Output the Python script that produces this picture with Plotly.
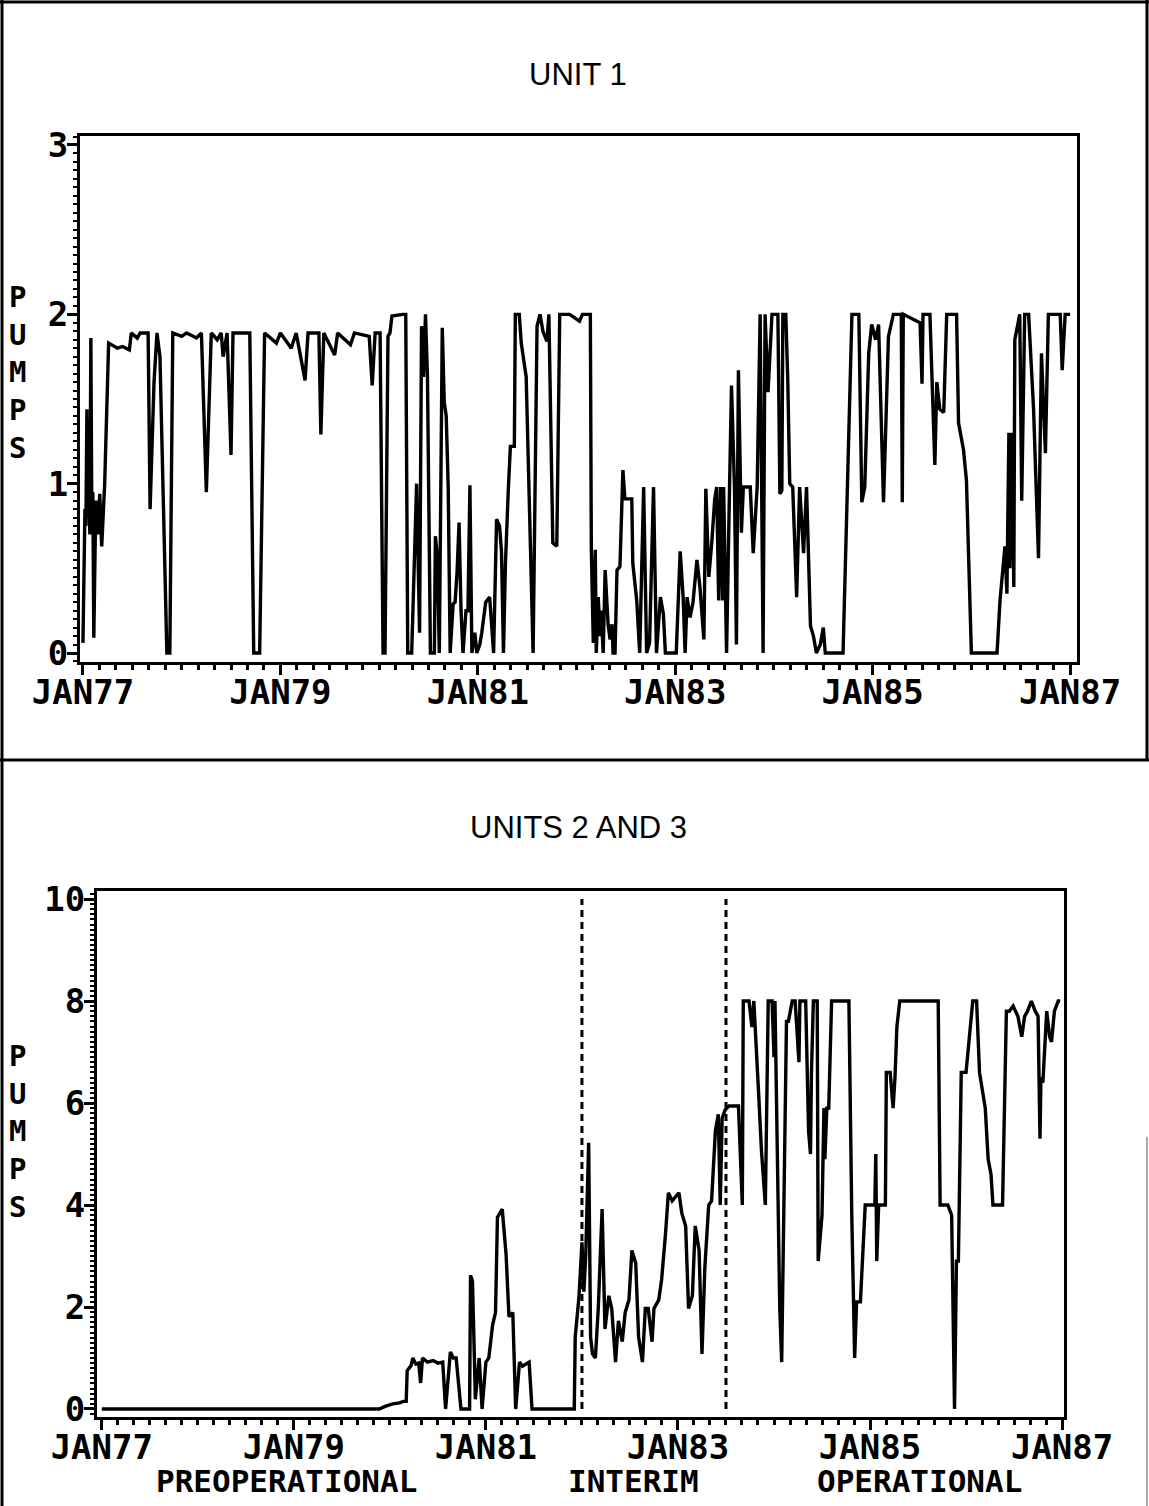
import plotly.graph_objects as go

# ---------------- DATA ----------------
# Unit 1: time (decimal year) and number of pumps in operation
unit1_t = [
    1977.00, 1977.02, 1977.03, 1977.04, 1977.05, 1977.06, 1977.07, 1977.08, 1977.09, 1977.10,
    1977.11, 1977.13, 1977.15, 1977.17, 1977.19, 1977.22, 1977.26, 1977.35, 1977.40, 1977.47,
    1977.49, 1977.55, 1977.58, 1977.66, 1977.68, 1977.72, 1977.75, 1977.78, 1977.83, 1977.85,
    1977.88, 1977.91, 1978.00, 1978.05, 1978.15, 1978.20, 1978.25, 1978.30, 1978.36, 1978.40,
    1978.42, 1978.46, 1978.50, 1978.52, 1978.69, 1978.73, 1978.79, 1978.84, 1978.96, 1979.00,
    1979.11, 1979.16, 1979.25, 1979.28, 1979.39, 1979.41, 1979.44, 1979.55, 1979.58, 1979.71,
    1979.75, 1979.90, 1979.93, 1979.96, 1980.01, 1980.04, 1980.06, 1980.09, 1980.11, 1980.13,
    1980.24, 1980.27, 1980.29, 1980.33, 1980.38, 1980.40, 1980.41, 1980.43, 1980.45, 1980.47,
    1980.49, 1980.52, 1980.56, 1980.57, 1980.59, 1980.61, 1980.64, 1980.66, 1980.68, 1980.70,
    1980.72, 1980.75, 1980.77, 1980.79, 1980.81, 1980.83, 1980.85, 1980.88, 1980.90, 1980.92,
    1980.94, 1980.97, 1980.99, 1981.02, 1981.04, 1981.08, 1981.12, 1981.16, 1981.19, 1981.22,
    1981.24, 1981.26, 1981.28, 1981.31, 1981.33, 1981.37, 1981.38, 1981.42, 1981.44, 1981.49,
    1981.53, 1981.56, 1981.60, 1981.63, 1981.66, 1981.70, 1981.72, 1981.76, 1981.80, 1981.83,
    1981.93, 1982.03, 1982.06, 1982.14, 1982.15, 1982.17, 1982.19, 1982.20, 1982.22, 1982.24,
    1982.25, 1982.27, 1982.29, 1982.32, 1982.34, 1982.36, 1982.37, 1982.39, 1982.41, 1982.44,
    1982.47, 1982.49, 1982.56, 1982.57, 1982.61, 1982.64, 1982.68, 1982.71, 1982.74, 1982.78,
    1982.81, 1982.83, 1982.85, 1982.88, 1982.90, 1983.01, 1983.05, 1983.08, 1983.10, 1983.12,
    1983.15, 1983.18, 1983.22, 1983.25, 1983.29, 1983.31, 1983.34, 1983.37, 1983.40, 1983.42,
    1983.44, 1983.46, 1983.48, 1983.49, 1983.52, 1983.55, 1983.57, 1983.60, 1983.62, 1983.64,
    1983.67, 1983.69, 1983.72, 1983.76, 1983.79, 1983.83, 1983.86, 1983.89, 1983.91, 1983.94,
    1983.98, 1984.04, 1984.06, 1984.08, 1984.09, 1984.12, 1984.14, 1984.16, 1984.19, 1984.23,
    1984.26, 1984.30, 1984.33, 1984.37, 1984.40, 1984.43, 1984.47, 1984.50, 1984.52, 1984.70,
    1984.79, 1984.86, 1984.89, 1984.92, 1984.96, 1984.99, 1985.03, 1985.06, 1985.11, 1985.16,
    1985.21, 1985.29, 1985.30, 1985.31, 1985.48, 1985.50, 1985.51, 1985.58, 1985.63, 1985.65,
    1985.68, 1985.72, 1985.75, 1985.85, 1985.87, 1985.92, 1985.95, 1986.00, 1986.26, 1986.29,
    1986.34, 1986.36, 1986.38, 1986.39, 1986.41, 1986.43, 1986.44, 1986.49, 1986.51, 1986.54,
    1986.58, 1986.63, 1986.68, 1986.71, 1986.75, 1986.78, 1986.90, 1986.92, 1986.95, 1987.00,
]
unit1_pumps = [
    0.06, 0.85, 0.75, 1.44, 0.80, 0.95, 0.70, 1.86, 0.75, 0.95,
    0.09, 0.90, 0.70, 0.94, 0.63, 1.00, 1.83, 1.80, 1.81, 1.79,
    1.89, 1.86, 1.89, 1.89, 0.85, 1.60, 1.89, 1.75, 0.50, 0.00,
    0.00, 1.89, 1.87, 1.89, 1.86, 1.89, 0.95, 1.89, 1.85, 1.89,
    1.75, 1.89, 1.17, 1.89, 1.89, 0.00, 0.00, 1.89, 1.83, 1.89,
    1.80, 1.89, 1.61, 1.89, 1.89, 1.29, 1.89, 1.76, 1.89, 1.82,
    1.89, 1.87, 1.58, 1.89, 1.89, 0.00, 0.00, 1.87, 1.89, 1.99,
    2.00, 2.00, 0.00, 0.00, 1.00, 0.30, 0.12, 1.93, 1.63, 2.00,
    1.63, 0.00, 0.00, 0.69, 0.57, 0.00, 1.92, 1.48, 1.40, 0.98,
    0.00, 0.29, 0.30, 0.48, 0.77, 0.25, 0.00, 0.25, 0.25, 0.99,
    0.00, 0.12, 0.00, 0.05, 0.12, 0.30, 0.33, 0.00, 0.79, 0.75,
    0.60, 0.00, 0.53, 0.98, 1.22, 1.22, 2.00, 2.00, 1.83, 1.63,
    0.70, 0.00, 1.93, 2.00, 1.90, 1.84, 2.00, 0.65, 0.63, 2.00,
    2.00, 1.96, 2.00, 2.00, 0.61, 0.06, 0.61, 0.00, 0.33, 0.10,
    0.25, 0.00, 0.49, 0.17, 0.08, 0.17, 0.00, 0.00, 0.49, 0.51,
    1.08, 0.91, 0.91, 0.53, 0.31, 0.00, 0.98, 0.00, 0.06, 0.98,
    0.00, 0.20, 0.33, 0.23, 0.00, 0.00, 0.60, 0.33, 0.00, 0.33,
    0.21, 0.30, 0.55, 0.39, 0.08, 0.97, 0.45, 0.65, 0.91, 0.98,
    0.31, 0.98, 0.31, 0.98, 0.00, 0.98, 1.58, 0.98, 0.05, 1.67,
    0.71, 0.98, 0.98, 0.98, 0.59, 0.98, 2.00, 0.00, 2.00, 1.54,
    2.00, 2.00, 0.94, 0.96, 2.00, 2.00, 1.61, 1.00, 0.98, 0.33,
    0.98, 0.59, 0.98, 0.16, 0.10, 0.00, 0.05, 0.15, 0.00, 0.00,
    2.00, 2.00, 0.89, 0.98, 1.77, 1.94, 1.85, 1.94, 0.89, 1.87,
    2.00, 2.00, 0.89, 2.00, 1.95, 1.59, 2.00, 2.00, 1.11, 1.60,
    1.44, 1.42, 2.00, 2.00, 1.36, 1.20, 1.02, 0.00, 0.00, 0.31,
    0.63, 0.35, 1.30, 0.50, 1.30, 0.39, 1.85, 2.00, 0.90, 2.00,
    2.00, 1.44, 0.56, 1.77, 1.18, 2.00, 2.00, 1.67, 2.00, 2.00,
]

# Units 2 and 3
units23_t = [
    1977.00, 1979.89, 1979.95, 1980.03, 1980.10, 1980.14, 1980.17, 1980.18, 1980.22, 1980.24,
    1980.27, 1980.30, 1980.32, 1980.34, 1980.39, 1980.45, 1980.50, 1980.55, 1980.58, 1980.63,
    1980.66, 1980.69, 1980.74, 1980.83, 1980.84, 1980.86, 1980.88, 1980.89, 1980.93, 1980.96,
    1981.00, 1981.03, 1981.07, 1981.10, 1981.12, 1981.17, 1981.21, 1981.24, 1981.28, 1981.31,
    1981.35, 1981.38, 1981.45, 1981.48, 1981.92, 1981.93, 1981.97, 1982.00, 1982.02, 1982.04,
    1982.07, 1982.09, 1982.11, 1982.14, 1982.17, 1982.21, 1982.24, 1982.28, 1982.31, 1982.35,
    1982.38, 1982.42, 1982.45, 1982.49, 1982.52, 1982.56, 1982.59, 1982.63, 1982.66, 1982.69,
    1982.73, 1982.75, 1982.80, 1982.83, 1982.87, 1982.90, 1982.94, 1982.97, 1983.01, 1983.04,
    1983.08, 1983.11, 1983.15, 1983.18, 1983.22, 1983.25, 1983.28, 1983.32, 1983.35, 1983.39,
    1983.42, 1983.44, 1983.46, 1983.49, 1983.53, 1983.63, 1983.67, 1983.68, 1983.74, 1983.77,
    1983.79, 1983.84, 1983.87, 1983.91, 1983.94, 1983.98, 1984.00, 1984.01, 1984.06, 1984.08,
    1984.13, 1984.15, 1984.19, 1984.22, 1984.26, 1984.27, 1984.33, 1984.36, 1984.38, 1984.39,
    1984.41, 1984.45, 1984.46, 1984.50, 1984.52, 1984.53, 1984.55, 1984.57, 1984.60, 1984.78,
    1984.81, 1984.84, 1984.86, 1984.90, 1984.95, 1985.05, 1985.06, 1985.07, 1985.09, 1985.16,
    1985.17, 1985.21, 1985.24, 1985.26, 1985.28, 1985.31, 1985.71, 1985.73, 1985.81, 1985.85,
    1985.88, 1985.90, 1985.92, 1985.95, 1986.00, 1986.07, 1986.11, 1986.14, 1986.20, 1986.23,
    1986.26, 1986.28, 1986.38, 1986.42, 1986.45, 1986.49, 1986.54, 1986.58, 1986.61, 1986.64,
    1986.68, 1986.72, 1986.75, 1986.77, 1986.78, 1986.80, 1986.84, 1986.87, 1986.89, 1986.92,
    1986.96, 1986.98,
]
units23_pumps = [
    0.00, 0.00, 0.05, 0.10, 0.12, 0.15, 0.15, 0.75, 0.85, 1.00,
    0.88, 0.90, 0.51, 1.00, 0.92, 0.95, 0.90, 0.92, 0.00, 1.12,
    1.00, 1.00, 0.00, 0.00, 2.62, 2.50, 1.00, 0.19, 1.00, 0.00,
    0.92, 1.00, 1.65, 1.89, 3.76, 3.92, 3.03, 1.81, 1.89, 0.00,
    0.92, 0.84, 0.92, 0.00, 0.00, 1.41, 2.22, 3.27, 2.30, 3.03,
    5.22, 1.41, 1.08, 1.00, 1.97, 3.92, 1.57, 2.22, 1.97, 0.92,
    1.73, 1.32, 1.89, 2.14, 3.11, 2.86, 1.41, 0.92, 1.97, 1.97,
    1.32, 1.97, 2.14, 2.54, 3.43, 4.24, 4.08, 4.16, 4.24, 3.84,
    3.59, 1.97, 2.22, 3.59, 3.11, 1.08, 2.78, 4.00, 4.08, 5.46,
    5.78, 4.00, 5.70, 5.86, 5.94, 5.94, 4.00, 8.00, 8.00, 7.49,
    8.00, 6.19, 5.05, 4.00, 8.00, 8.00, 6.90, 8.00, 1.97, 0.92,
    7.60, 7.60, 8.00, 8.00, 6.80, 8.00, 8.00, 5.45, 5.00, 6.60,
    8.00, 8.00, 2.90, 3.80, 5.90, 4.90, 5.90, 5.90, 8.00, 8.00,
    3.80, 1.00, 2.10, 2.10, 4.00, 4.00, 5.00, 2.90, 4.00, 4.00,
    6.60, 6.60, 5.90, 6.50, 7.50, 8.00, 8.00, 4.00, 4.00, 3.80,
    0.00, 2.90, 2.90, 6.60, 6.60, 8.00, 8.00, 6.60, 5.90, 4.90,
    4.60, 4.00, 4.00, 7.80, 7.80, 7.90, 7.70, 7.30, 7.70, 7.80,
    8.00, 7.80, 7.70, 5.30, 6.50, 6.40, 7.80, 7.30, 7.20, 7.80,
    8.00, 8.00,
]

tick_years = [1977, 1979, 1981, 1983, 1985, 1987]
tick_labels = ["JAN77", "JAN79", "JAN81", "JAN83", "JAN85", "JAN87"]
unit1_yticks = [0, 1, 2, 3]
units23_yticks = [0, 2, 4, 6, 8, 10]
phase_bounds = [1982.0, 1983.5]
phase_names = ["PREOPERATIONAL", "INTERIM", "OPERATIONAL"]
panel_titles = ["UNIT 1", "UNITS 2 AND 3"]
y_title = "PUMPS"

# ---------------- FIGURE ----------------
W, H = 1149, 1506
MONO = "DejaVu Sans Mono"

def px_x(px):
    return px / W

def px_y(py):
    return 1 - py / H

fig = go.Figure()
line_style = dict(color="black", width=3.4)

fig.add_trace(go.Scatter(x=unit1_t, y=unit1_pumps, mode="lines", line=line_style,
                         xaxis="x", yaxis="y", showlegend=False, hoverinfo="skip"))
fig.add_trace(go.Scatter(x=units23_t, y=units23_pumps, mode="lines", line=line_style,
                         xaxis="x2", yaxis="y2", showlegend=False, hoverinfo="skip"))
for b in phase_bounds:
    fig.add_trace(go.Scatter(x=[b, b], y=[units23_yticks[0], units23_yticks[-1]], mode="lines",
                             line=dict(color="black", width=3, dash="7px,5px"),
                             xaxis="x2", yaxis="y2", showlegend=False, hoverinfo="skip"))

tickfont = dict(family=MONO, size=34, color="black", weight="bold")
common_x = dict(
    tickmode="array", tickvals=tick_years, ticktext=tick_labels,
    ticks="outside", ticklen=10, tickwidth=3, tickcolor="black",
    showline=True, linecolor="black", linewidth=3, mirror=True,
    showgrid=False, zeroline=False, tickfont=tickfont, automargin=False,
    ticklabelstandoff=-12,
    minor=dict(dtick=1 / 6, tick0=1977, ticks="outside", ticklen=5, tickwidth=3, tickcolor="black"),
)
common_y = dict(
    tickmode="array", ticks="outside", ticklen=10, tickwidth=3, tickcolor="black",
    showline=True, linecolor="black", linewidth=3, mirror=True,
    showgrid=False, zeroline=False, tickfont=tickfont, automargin=False,
    ticklabelstandoff=-8,
)

fig.update_layout(
    width=W, height=H,
    margin=dict(l=0, r=0, t=0, b=0, pad=0),
    paper_bgcolor="white", plot_bgcolor="white",
    xaxis=dict(domain=[px_x(80), px_x(1077)], range=[1976.97, 1987.07], anchor="y", **common_x),
    yaxis=dict(domain=[px_y(662), px_y(136)], range=[-0.053, 3.053], anchor="x",
               tickvals=unit1_yticks, ticktext=[str(v) for v in unit1_yticks],
               minor=dict(dtick=0.05, tick0=0, ticks="outside", ticklen=4, tickwidth=2, tickcolor="black"),
               **common_y),
    xaxis2=dict(domain=[px_x(97), px_x(1064)], range=[1976.95, 1987.02], anchor="y2", **common_x),
    yaxis2=dict(domain=[px_y(1417), px_y(891)], range=[-0.157, 10.157], anchor="x2",
                tickvals=units23_yticks, ticktext=[str(v) for v in units23_yticks],
                minor=dict(dtick=0.1, tick0=0, ticks="outside", ticklen=4, tickwidth=2, tickcolor="black"),
                **common_y),
)

annotations = []
# panel titles
for title, py in zip(panel_titles, [75, 828]):
    annotations.append(dict(text=title, x=px_x(578), y=px_y(py), xref="paper", yref="paper",
                            showarrow=False, xanchor="center", yanchor="middle",
                            font=dict(family="Liberation Sans", size=31, color="black")))
# stacked (vertical) y-axis titles
for py in [372, 1131]:
    annotations.append(dict(text="<br>".join(y_title), x=px_x(17), y=px_y(py),
                            xref="paper", yref="paper", showarrow=False,
                            xanchor="center", yanchor="middle", align="center",
                            font=dict(family=MONO, size=29, color="black", weight="bold")))
# phase labels under the bottom panel
for name, cx in zip(phase_names, [1978.92, 1982.54, 1985.52]):
    annotations.append(dict(text=name, x=cx, y=px_y(1481), xref="x2", yref="paper",
                            showarrow=False, xanchor="center", yanchor="middle",
                            font=dict(family=MONO, size=31, color="black", weight="bold")))
fig.update_layout(annotations=annotations)

# outer frame of the figure page
frame = dict(type="line", xref="paper", yref="paper", line=dict(color="black", width=3))
fig.update_layout(shapes=[
    dict(frame, x0=px_x(2), x1=px_x(2), y0=0, y1=1),
    dict(frame, x0=0, x1=1, y0=px_y(2), y1=px_y(2)),
    dict(frame, x0=px_x(1147), x1=px_x(1147), y0=px_y(760), y1=1),
    dict(frame, x0=0, x1=1, y0=px_y(760), y1=px_y(760)),
    dict(type="line", xref="paper", yref="paper", x0=px_x(1147), x1=px_x(1147),
         y0=0, y1=px_y(1137), line=dict(color="#555555", width=1)),
])

fig.write_html("out.html", config={"displayModeBar": False},
               post_script="document.body.style.margin='0';")
